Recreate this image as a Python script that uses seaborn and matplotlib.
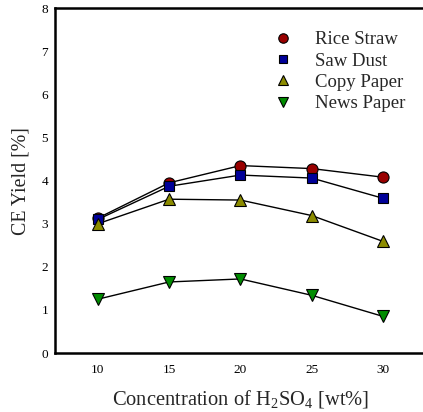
import numpy as np
import pandas as pd
import seaborn as sns
import matplotlib.pyplot as plt

# concentration of H2SO4 (wt%)
conc = [10, 15, 20, 25, 30]

rice_straw = [3.13, 3.95, 4.35, 4.28, 4.08]
saw_dust = [3.10, 3.87, 4.13, 4.06, 3.59]
copy_paper = [3.00, 3.57, 3.55, 3.19, 2.59]
news_paper = [1.25, 1.65, 1.72, 1.34, 0.85]

series_names = ['Rice Straw', 'Saw Dust', 'Copy Paper', 'News Paper']

##
rows = []
for name, vals in zip(series_names, [rice_straw, saw_dust, copy_paper, news_paper]):
    for c, v in zip(conc, vals):
        rows.append({'conc': c, 'yield': v, 'material': name})
df = pd.DataFrame(rows)

sns.set_style('white')
plt.rcParams['font.family'] = ['Liberation Serif', 'DejaVu Serif']
plt.rcParams['mathtext.fontset'] = 'custom'
plt.rcParams['mathtext.rm'] = 'Liberation Serif'

fig = plt.figure(figsize=(4.23, 4.12), dpi=100)
ax = fig.add_axes([0.130, 0.143, 0.877, 0.837])

colors = {'Rice Straw': '#990000', 'Saw Dust': '#000099',
          'Copy Paper': '#8c8c00', 'News Paper': '#008c00'}
markers = {'Rice Straw': 'o', 'Saw Dust': 's',
           'Copy Paper': '^', 'News Paper': 'v'}
sizes = {'Rice Straw': 8, 'Saw Dust': 7, 'Copy Paper': 8, 'News Paper': 8}

# connecting lines in black
for name in series_names:
    sub = df[df['material'] == name]
    sns.lineplot(data=sub, x='conc', y='yield', color='black', lw=1,
                 ax=ax, legend=False, zorder=2)

# markers
for name in series_names:
    sub = df[df['material'] == name]
    ax.plot(sub['conc'], sub['yield'], ls='none', marker=markers[name],
            ms=sizes[name], mfc=colors[name], mec='black', mew=0.8,
            label=name, zorder=3)

ax.set_xlim(7, 33)
ax.set_ylim(0, 8)
ax.set_xticks(conc)
ax.set_yticks(range(0, 9))
ax.tick_params(direction='in', length=4, width=1, labelsize=9.5, colors='black')
ax.tick_params(axis='x', pad=8)
ax.tick_params(axis='y', pad=5)

for side in ['left', 'bottom', 'top']:
    ax.spines[side].set_linewidth(1.8)
    ax.spines[side].set_color('black')
ax.spines['right'].set_visible(False)

ax.set_xlabel(r'Concentration of H$_2$SO$_4$ [wt%]', fontsize=14.8, labelpad=9)
ax.set_ylabel('CE Yield [%]', fontsize=14.3, labelpad=8)

ax.legend(loc='upper right', bbox_to_anchor=(0.99, 0.982), frameon=False,
          fontsize=13.5, handletextpad=0.7, labelspacing=0.22, markerscale=0.85)

fig.savefig('out.png', dpi=100)
